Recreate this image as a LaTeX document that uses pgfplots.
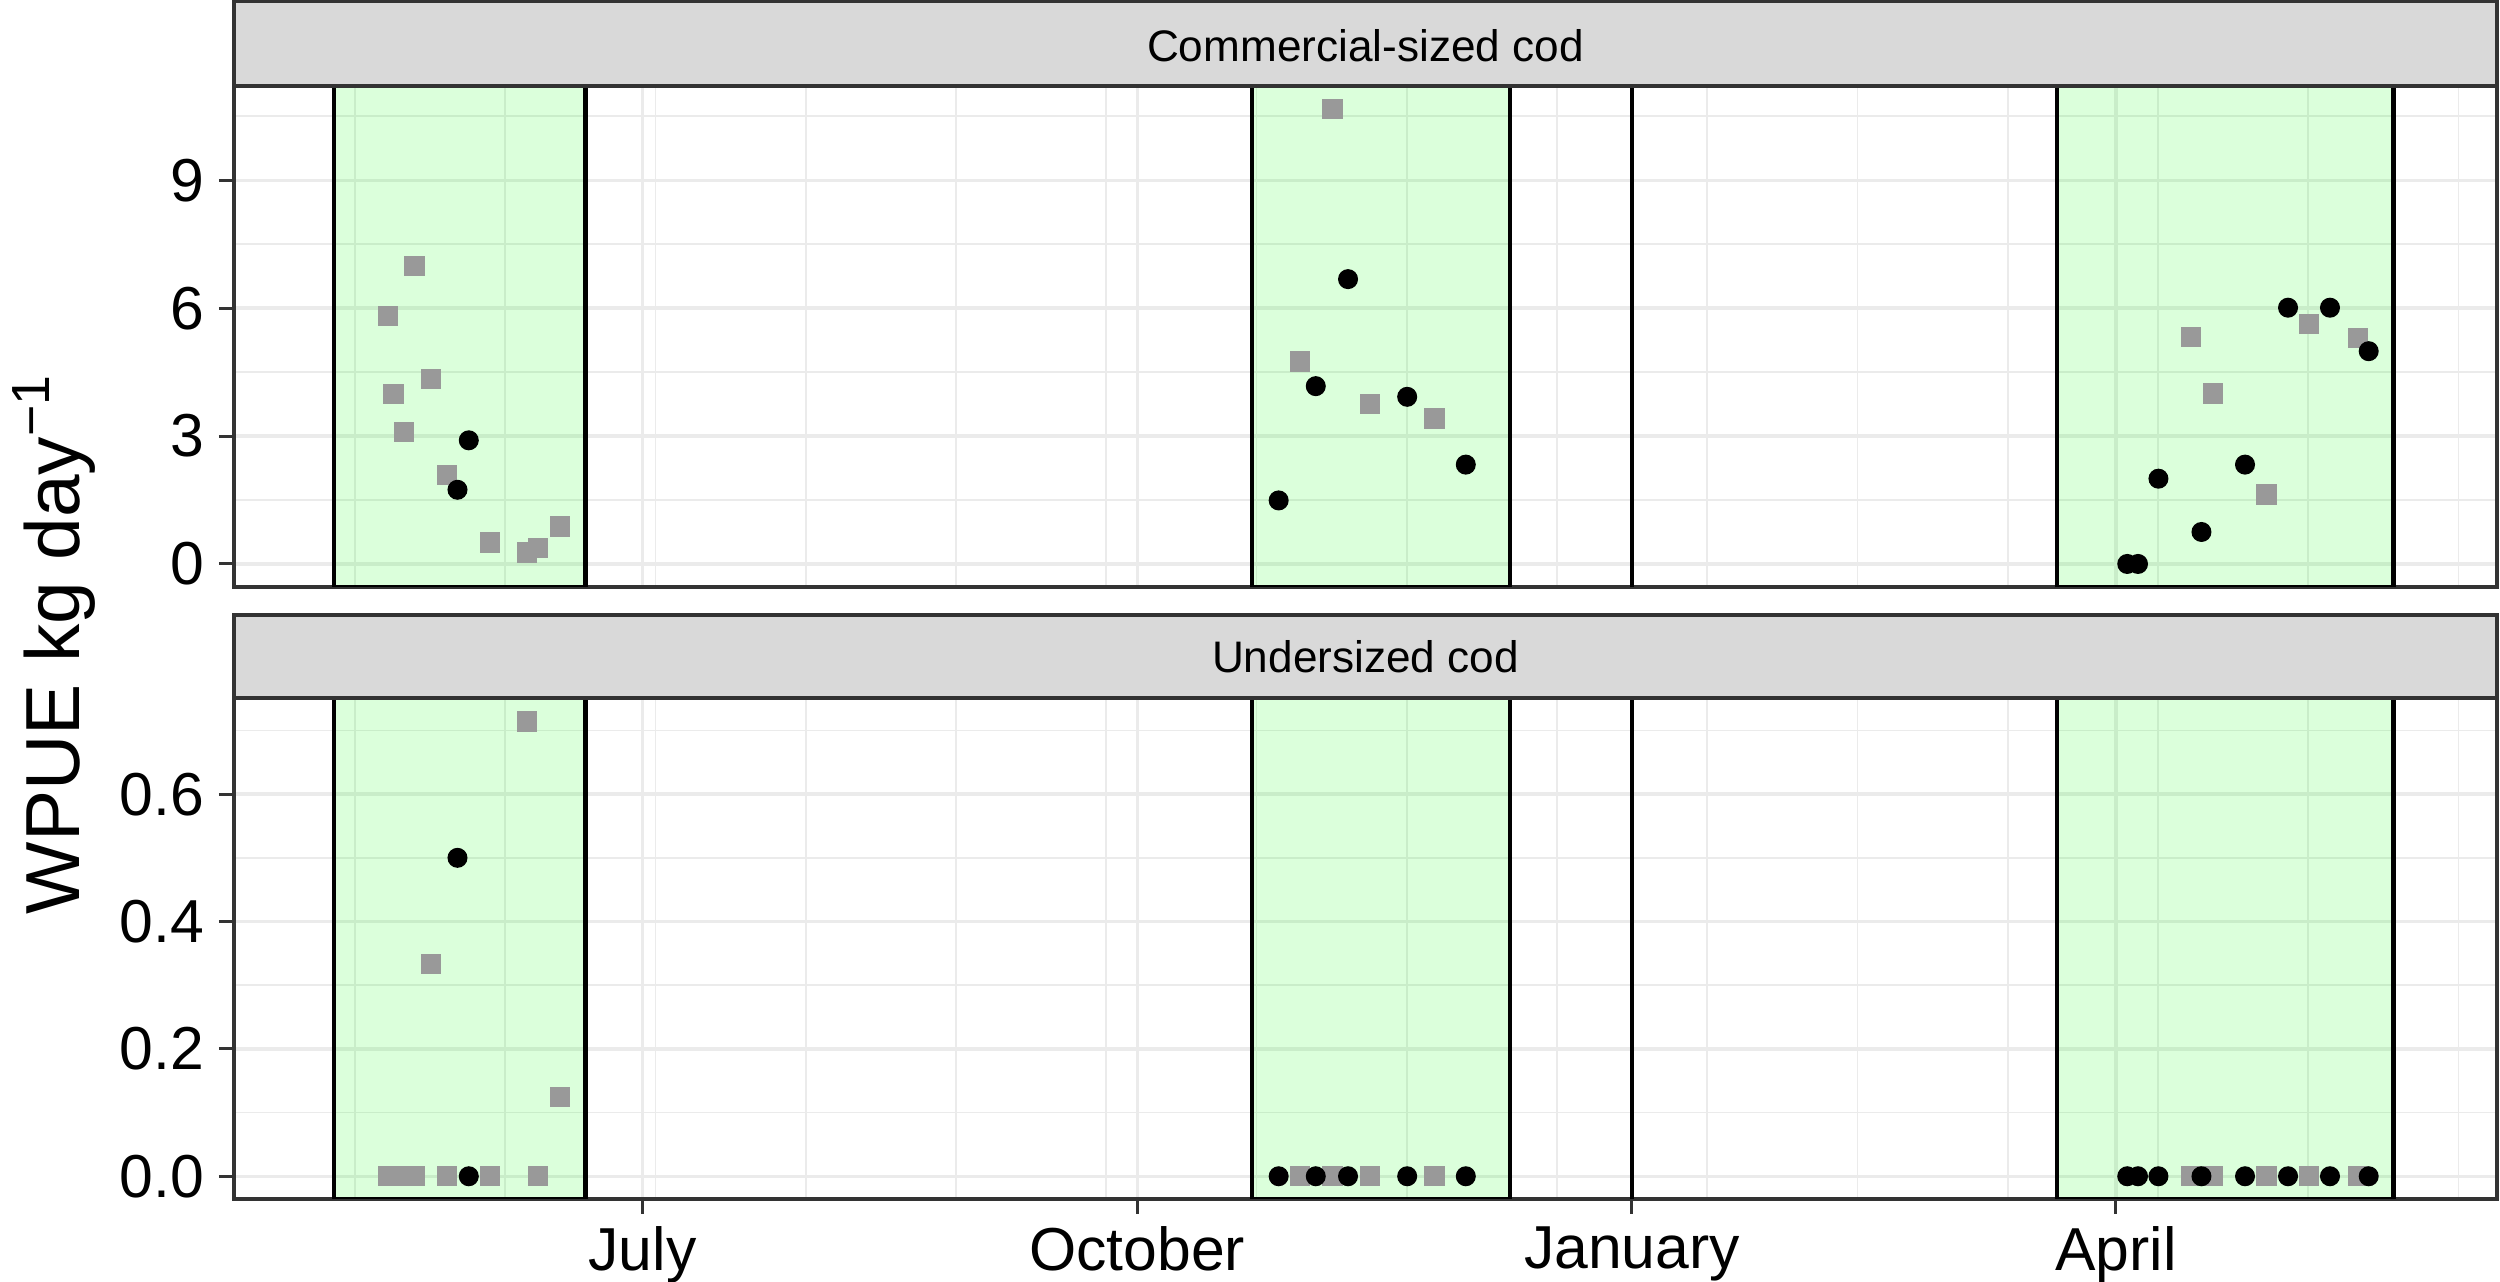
\documentclass[border=0pt]{standalone}
\usepackage{fontspec}
\setmainfont{Liberation Sans}
\usepackage{pgfplots}
\pgfplotsset{compat=1.18}
\definecolor{gridc}{HTML}{EBEBEB}
\definecolor{brd}{HTML}{333333}
\definecolor{stripc}{HTML}{D9D9D9}
\definecolor{ptgray}{HTML}{999999}
\definecolor{boxg}{HTML}{00FF00}
\pgfplotsset{
  panel/.style={
    scale only axis, width=678.9pt, height=150.3pt, anchor=south west,
    xmin=-75.96, xmax=344.86,
    xtick={0,92,184,274},
    minor xtick={-53.45,-25.51,2.43,30.37,58.31,86.25,114.19,142.13,170.07,198.01,225.95,253.89,281.83,309.77,337.71},
    grid=both,
    major grid style={draw=gridc, line width=1pt},
    minor grid style={draw=gridc, line width=0.5pt},
    axis line style={draw=brd, line width=1pt},
    tick align=outside, tick pos=left,
    major tick length=4.5pt, minor tick length=0pt,
    every tick/.style={draw=brd, line width=0.9pt},
    /pgf/number format/assume math mode=true,
    tick label style={font=\fontsize{18.2}{21}\selectfont, inner sep=0pt, text=black},
    yticklabel style={xshift=-4.3pt},
    xticklabel style={yshift=-3.5pt},
  },
  gpts/.style={only marks, mark=square*, mark size=2.85pt, color=ptgray, mark options={draw=none, fill=ptgray}},
  bpts/.style={only marks, mark=*, mark size=2.8pt, color=black, mark options={draw=none, fill=black}},
  gbox/.style={draw=black, line width=1.3pt, fill=boxg, fill opacity=0.14},
  jline/.style={draw=black, line width=1.0pt},
}
\begin{document}
\begin{tikzpicture}
\path[use as bounding box] (0,0) rectangle (750pt,384.6pt);
% ---------------- top panel ----------------
\begin{axis}[panel, at={(70.2pt,208.5pt)},
  ymin=-0.54, ymax=11.21,
  ytick={0,3,6,9}, minor ytick={1.5,4.5,7.5,10.5},
  xticklabels={}, x tick style={draw=none},
]
\addplot[gbox] coordinates {(-57.4,-0.54) (-57.4,11.21) (-10.6,11.21) (-10.6,-0.54) (-57.4,-0.54)};
\addplot[gbox] coordinates {(113.3,-0.54) (113.3,11.21) (161.3,11.21) (161.3,-0.54) (113.3,-0.54)};
\addplot[gbox] coordinates {(263.0,-0.54) (263.0,11.21) (325.6,11.21) (325.6,-0.54) (263.0,-0.54)};
\addplot[jline] coordinates {(184,-0.54) (184,11.21)};
\addplot[gpts] coordinates {
 (-47.3,5.81) (-46.3,3.99) (-44.3,3.09) (-42.4,6.99) (-39.3,4.34) (-36.4,2.08)
 (-28.4,0.50) (-21.5,0.27) (-19.4,0.37) (-15.3,0.88)
 (122.3,4.75) (128.3,10.67) (135.3,3.75) (147.3,3.41)
 (287.9,5.32) (292.0,4.00) (302.0,1.63) (309.9,5.63) (319.0,5.30)};
\addplot[bpts] coordinates {
 (-34.4,1.74) (-32.3,2.90)
 (118.3,1.49) (125.2,4.17) (131.2,6.68) (142.2,3.92) (153.1,2.33)
 (276.1,0) (278.1,0) (281.9,2.00) (289.9,0.75) (298.0,2.33) (306.0,6.01) (313.8,6.01) (321.0,4.99)};
\end{axis}
% ---------------- bottom panel ----------------
\begin{axis}[panel, at={(70.2pt,24.9pt)},
  ymin=-0.0357, ymax=0.751,
  ytick={0,0.2,0.4,0.6}, yticklabels={0.0,0.2,0.4,0.6},
  minor ytick={0.1,0.3,0.5,0.7},
  xticklabels={July,October,January,April},
]
\addplot[gbox] coordinates {(-57.4,-0.0357) (-57.4,0.751) (-10.6,0.751) (-10.6,-0.0357) (-57.4,-0.0357)};
\addplot[gbox] coordinates {(113.3,-0.0357) (113.3,0.751) (161.3,0.751) (161.3,-0.0357) (113.3,-0.0357)};
\addplot[gbox] coordinates {(263.0,-0.0357) (263.0,0.751) (325.6,0.751) (325.6,-0.0357) (263.0,-0.0357)};
\addplot[jline] coordinates {(184,-0.0357) (184,0.751)};
\addplot[gpts] coordinates {
 (-47.3,0) (-46.3,0) (-44.3,0) (-42.4,0) (-39.3,0.333) (-36.4,0)
 (-28.4,0) (-21.5,0.714) (-19.4,0) (-15.3,0.124)
 (122.3,0) (128.3,0) (135.3,0) (147.3,0)
 (287.9,0) (292.0,0) (302.0,0) (309.9,0) (319.0,0)};
\addplot[bpts] coordinates {
 (-34.4,0.5) (-32.3,0)
 (118.3,0) (125.2,0) (131.2,0) (142.2,0) (153.1,0)
 (276.1,0) (278.1,0) (281.9,0) (289.9,0) (298.0,0) (306.0,0) (313.8,0) (321.0,0)};
\end{axis}
% ---------------- strips ----------------
\draw[fill=stripc, draw=brd, line width=1pt] (70.2pt,358.8pt) rectangle (749.1pt,384.2pt);
\node[inner sep=0pt, font=\fontsize{13.25}{16}\selectfont] at (409.65pt,371.0pt) {Commercial-sized cod};
\draw[fill=stripc, draw=brd, line width=1pt] (70.2pt,175.2pt) rectangle (749.1pt,200.1pt);
\node[inner sep=0pt, font=\fontsize{13.25}{16}\selectfont] at (409.65pt,187.5pt) {Undersized cod};
% ---------------- y label ----------------
\node[rotate=90, anchor=base, inner sep=0pt, font=\fontsize{23}{27}\selectfont] at (24pt,191.4pt) {WPUE kg day\textsuperscript{−1}};
\end{tikzpicture}
\end{document}
